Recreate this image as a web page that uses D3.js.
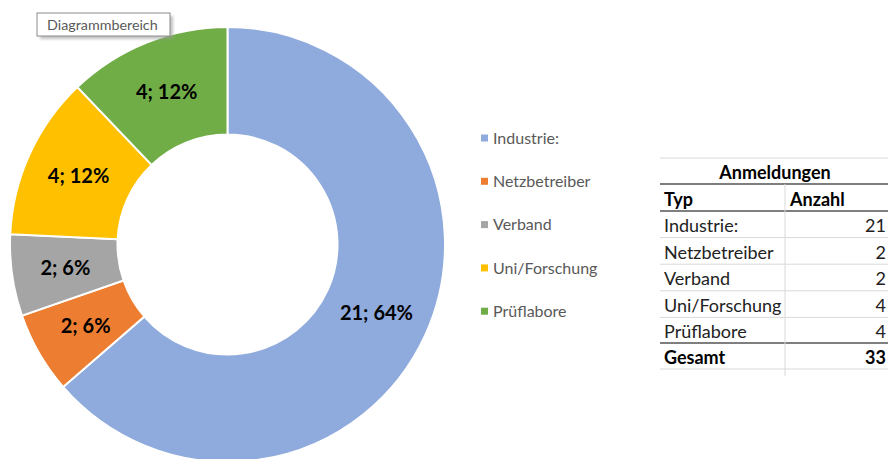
<!DOCTYPE html>
<html>
<head>
<meta charset="utf-8">
<script src="https://cdn.jsdelivr.net/npm/d3@7/dist/d3.min.js"></script>
<style>
  html, body { margin: 0; padding: 0; background: #fff; }
  svg { display: block; font-family: Lato, "Noto Sans", sans-serif; }
</style>
</head>
<body>
<svg id="chart" width="888" height="459"></svg>
<script>
// Anmeldungen nach Typ
const categories = ["Industrie:", "Netzbetreiber", "Verband", "Uni/Forschung", "Prüflabore"];
const counts = [21, 2, 2, 4, 4];
const colors = ["#8FAADC", "#ED7D31", "#A5A5A5", "#FFC000", "#70AD47"];
const tableTitle = "Anmeldungen";
const tableHeaders = ["Typ", "Anzahl"];
const totalLabel = "Gesamt";

const svg = d3.select("#chart");
const total = d3.sum(counts);

const defs = svg.append("defs");
const sh = defs.append("filter").attr("id", "shadow").attr("x", "-10%").attr("y", "-30%")
  .attr("width", "130%").attr("height", "180%");
sh.append("feGaussianBlur").attr("stdDeviation", 1.5);

// Donut
const cx = 227.5, cy = 244.5, outerR = 217.5, innerR = 110;
const pie = d3.pie().sort(null).value(d => d)(counts);
const arc = d3.arc().innerRadius(innerR).outerRadius(outerR);
const g = svg.append("g").attr("transform", `translate(${cx},${cy})`);

g.selectAll("path.slice")
  .data(pie)
  .join("path")
  .attr("class", "slice")
  .attr("d", arc)
  .attr("fill", (d, i) => colors[i])
  .attr("stroke", "#fff")
  .attr("stroke-width", 2);

g.selectAll("text.lbl")
  .data(pie)
  .join("text")
  .attr("class", "lbl")
  .attr("transform", d => `translate(${arc.centroid(d)})`)
  .attr("text-anchor", "middle")
  .attr("dy", "0.35em")
  .attr("font-size", 20)
  .attr("font-weight", "bold")
  .attr("fill", "#000")
  .text(d => `${d.data}; ${Math.round(d.data / total * 100)}%`);

// Legend
const legend = svg.append("g").attr("transform", "translate(481,138)");
const li = legend.selectAll("g").data(categories).join("g")
  .attr("transform", (d, i) => `translate(0,${i * 43.3})`);
li.append("rect").attr("x", 0).attr("y", -3.5).attr("width", 7).attr("height", 7)
  .attr("fill", (d, i) => colors[i]);
li.append("text").attr("x", 12).attr("dy", "0.35em")
  .attr("font-size", 16).attr("fill", "#595959").text(d => d);

// Tooltip-style chart area label
const tip = svg.append("g").attr("transform", "translate(37,13)");
tip.append("rect").attr("x", 3).attr("y", 3).attr("width", 133).attr("height", 23)
  .attr("fill", "#9a9a9a").attr("opacity", 0.6).attr("filter", "url(#shadow)");
tip.append("rect").attr("x", 0).attr("y", 0).attr("width", 133).attr("height", 23)
  .attr("fill", "#fff").attr("stroke", "#8c8c8c").attr("stroke-width", 1);
tip.append("text").attr("x", 10).attr("y", 16.5).attr("font-size", 14.3)
  .attr("fill", "#595959").text("Diagrammbereich");

// Summary table
const tx0 = 660, tx1 = 888, colX = 785, valX = 886;
const t = svg.append("g");
const hline = (y, color, w) => t.append("line").attr("x1", tx0).attr("x2", tx1)
  .attr("y1", y).attr("y2", y).attr("stroke", color).attr("stroke-width", w);

const rowTop = 211, rowH = 26.6, fs = 18;
hline(158, "#d9d9d9", 1);
hline(184, "#555", 1.5);
hline(211, "#555", 1.5);
counts.forEach((c, i) => { if (i < counts.length - 1) hline(rowTop + (i + 1) * rowH, "#d9d9d9", 1); });
hline(343, "#555", 1.5);
hline(369, "#d9d9d9", 1);
t.append("line").attr("x1", colX).attr("x2", colX).attr("y1", 184).attr("y2", 376)
  .attr("stroke", "#d9d9d9").attr("stroke-width", 1);

t.append("text").attr("x", (tx0 + tx1) / 2 + 1).attr("y", 179).attr("text-anchor", "middle")
  .attr("font-size", fs).attr("font-weight", "bold").attr("fill", "#000").text(tableTitle);
t.append("text").attr("x", 664).attr("y", 206).attr("font-size", fs)
  .attr("font-weight", "bold").attr("fill", "#000").text(tableHeaders[0]);
t.append("text").attr("x", 790).attr("y", 206).attr("font-size", fs)
  .attr("font-weight", "bold").attr("fill", "#000").text(tableHeaders[1]);

categories.forEach((cat, i) => {
  const y = rowTop + i * rowH + 21;
  t.append("text").attr("x", 664).attr("y", y).attr("font-size", fs)
    .attr("fill", "#222").text(cat);
  t.append("text").attr("x", valX).attr("y", y).attr("font-size", fs)
    .attr("text-anchor", "end").attr("fill", "#222").text(counts[i]);
});
t.append("text").attr("x", 664).attr("y", 364).attr("font-size", fs)
  .attr("font-weight", "bold").attr("fill", "#000").text(totalLabel);
t.append("text").attr("x", valX).attr("y", 364).attr("font-size", fs)
  .attr("font-weight", "bold").attr("text-anchor", "end").attr("fill", "#000").text(total);
</script>
</body>
</html>
